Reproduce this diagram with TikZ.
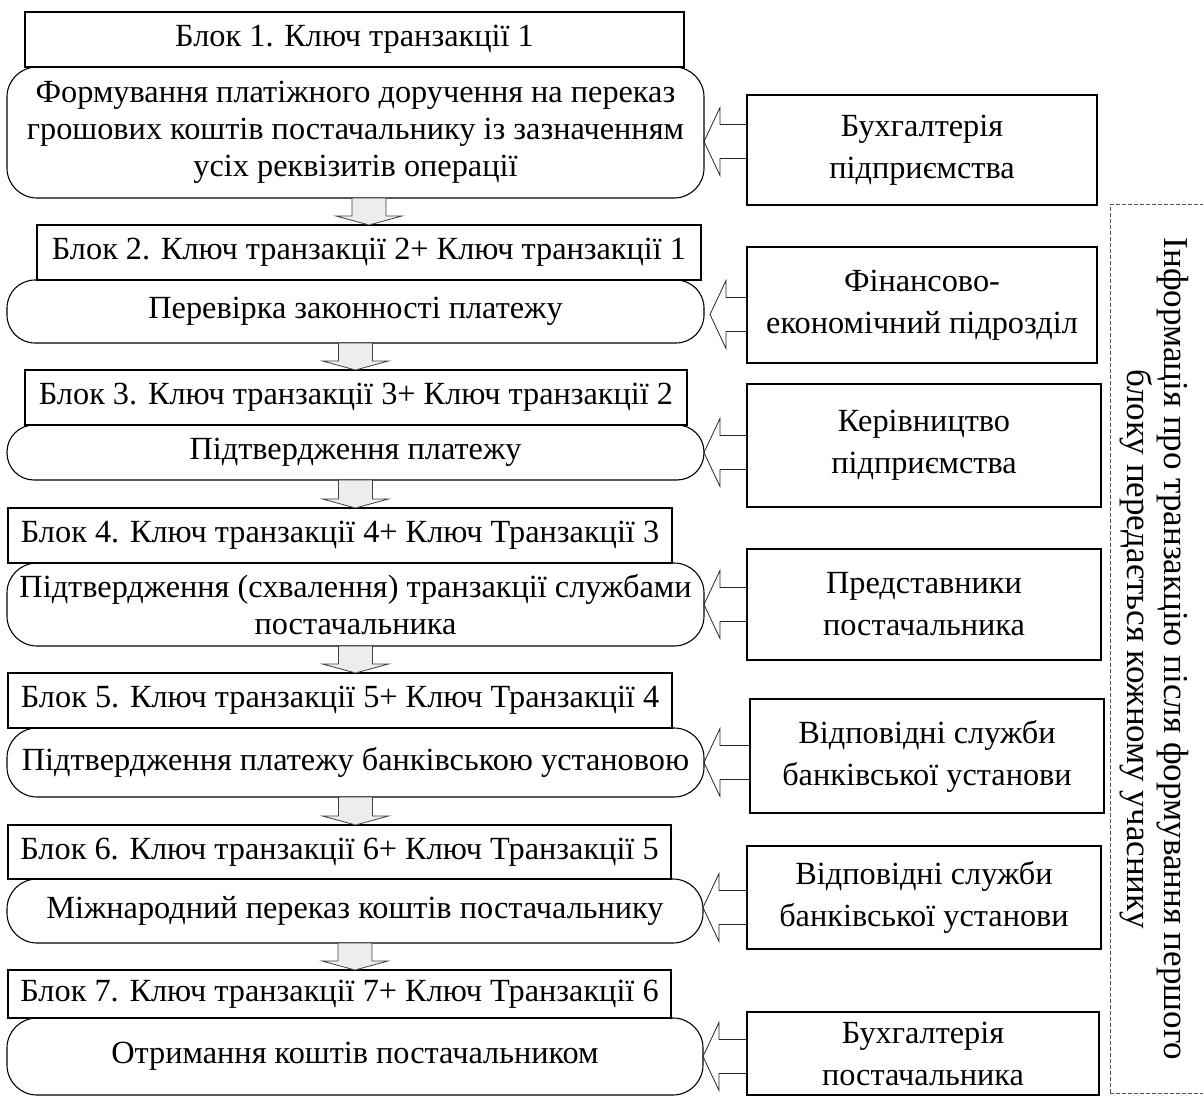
\documentclass[tikz,border=0pt]{standalone}
\usepackage{fontspec}
\setmainfont{Liberation Serif}
\usetikzlibrary{calc}
\definecolor{arrowfill}{HTML}{EDEDED}
\definecolor{dashgray}{HTML}{555555}
\newcommand\downArr[3][0]{%
  \path[downarrow] let \p1=(#2.south), \p2=(#3.north) in
    (\x1+#1pt-17pt,\y1) -- (\x1+#1pt+17pt,\y1) -- (\x1+#1pt+17pt,\y2+9pt)
    -- (\x1+#1pt+33pt,\y2+9pt) -- (\x1+#1pt,\y2) -- (\x1+#1pt-33pt,\y2+9pt)
    -- (\x1+#1pt-17pt,\y2+9pt) -- cycle;}
% #1 side node, #2 stage node, #3 tip x offset, #4 y offset (down positive)
\newcommand\leftArr[4]{%
  \path[leftarrow] let \p1=($(#2.east)+(#3,#4)$), \p2=(#1.west) in
    (\x2,\y1+17pt) -- (\x1+16pt,\y1+17pt) -- (\x1+16pt,\y1+34pt) -- (\x1,\y1)
    -- (\x1+16pt,\y1-34pt) -- (\x1+16pt,\y1-17pt) -- (\x2,\y1-17pt) -- cycle;}
\begin{document}
\begin{tikzpicture}[x=1pt,y=-1pt,
  every node/.style={inner sep=0pt, outer sep=0pt, font=\fontsize{32.3}{37}\selectfont},
  box/.style n args={4}{at={({(#1+#3)/2},{(#2+#4)/2})},
    minimum width={#3-#1}, minimum height={#4-#2}},
  hdr/.style={draw, line width=1.1pt, rectangle, align=center},
  stage/.style={draw, line width=1.1pt, rounded corners=#1, align=center},
  stage/.default=28pt,
  side/.style={draw, line width=1.1pt, rectangle, align=center,
    font=\fontsize{32.3}{42}\selectfont},
  infobox/.style={draw=dashgray, line width=1pt, dash pattern=on 4pt off 2pt},
  downarrow/.style={draw=black!75, line width=0.8pt, fill=arrowfill},
  leftarrow/.style={draw=black!85, line width=0.8pt}]
\useasboundingbox (0,0) rectangle (1203,1097);

% headers
\node[hdr, box={25}{12}{684}{67}] (h1) {Блок 1. Ключ транзакції 1};
\node[hdr, box={37}{225}{701}{280}] (h2) {Блок 2. Ключ транзакції 2+ Ключ транзакції 1};
\node[hdr, box={25}{370}{687}{425}] (h3) {Блок 3. Ключ транзакції 3+ Ключ транзакції 2};
\node[hdr, box={8}{508}{672}{563}] (h4) {Блок 4. Ключ транзакції 4+ Ключ Транзакції 3};
\node[hdr, box={8}{673}{672}{728}] (h5) {Блок 5. Ключ транзакції 5+ Ключ Транзакції 4};
\node[hdr, box={8}{825}{671}{879}] (h6) {Блок 6. Ключ транзакції 6+ Ключ Транзакції 5};
\node[hdr, box={8}{970}{671}{1018}] (h7) {Блок 7. Ключ транзакції 7+ Ключ Транзакції 6};

% stages
\node[stage=30pt, box={7}{67}{704}{198}] (b1) {Формування платіжного доручення на переказ\\грошових коштів постачальнику із зазначенням\\усіх реквізитів операції};
\node[stage, box={7}{280}{704}{343}] (b2) {Перевірка законності платежу};
\node[stage=27pt, box={7}{425}{704}{480}] (b3) {Підтвердження платежу};
\node[stage=30pt, box={7}{563}{704}{646}] (b4) {Підтвердження (схвалення) транзакції службами\\постачальника};
\node[stage=30pt, box={7}{728}{704}{797}] (b5) {Підтвердження платежу банківською установою};
\node[stage=30pt, box={7}{879}{703}{943}] (b6) {Міжнародний переказ коштів постачальнику};
\node[stage=30pt, box={7}{1018}{703}{1095}] (b7) {Отримання коштів постачальником};

% side boxes
\node[side, box={747}{95}{1097}{205}] (s1) {Бухгалтерія\\підприємства};
\node[side, box={747}{247}{1097}{363}] (s2) {Фінансово-\\економічний підрозділ};
\node[side, box={747}{384}{1101}{507}] (s3) {Керівництво\\підприємства};
\node[side, box={747}{549}{1101}{660}] (s4) {Представники\\постачальника};
\node[side, box={750}{699}{1104}{813}] (s5) {Відповідні служби\\банківської установи};
\node[side, box={747}{846}{1101}{949}] (s6) {Відповідні служби\\банківської установи};
\node[side, box={747}{1012}{1099}{1095}] (s7) {Бухгалтерія\\постачальника};

% info
\node[infobox, box={1110}{205}{1214}{1093}] (info) {};
\node[rotate=-90, align=center, font=\fontsize{35}{37}\selectfont] (infotext) at (1154,649)
  {Інформація про транзакцію після формування першого\\блоку передається кожному учаснику};

% down arrows
\downArr[13.5]{b1}{h2}
\downArr{b2}{h3}
\downArr{b3}{h4}
\downArr{b4}{h5}
\downArr{b5}{h6}
\downArr{b6}{h7}

% left arrows
\leftArr{s1}{b1}{0}{9}
\leftArr{s2}{b2}{6}{3}
\leftArr{s3}{b3}{0}{0}
\leftArr{s4}{b4}{0}{0}
\leftArr{s5}{b5}{0}{0}
\leftArr{s6}{b6}{0}{-3.5}
\leftArr{s7}{b7}{0}{0}
\end{tikzpicture}
\end{document}
